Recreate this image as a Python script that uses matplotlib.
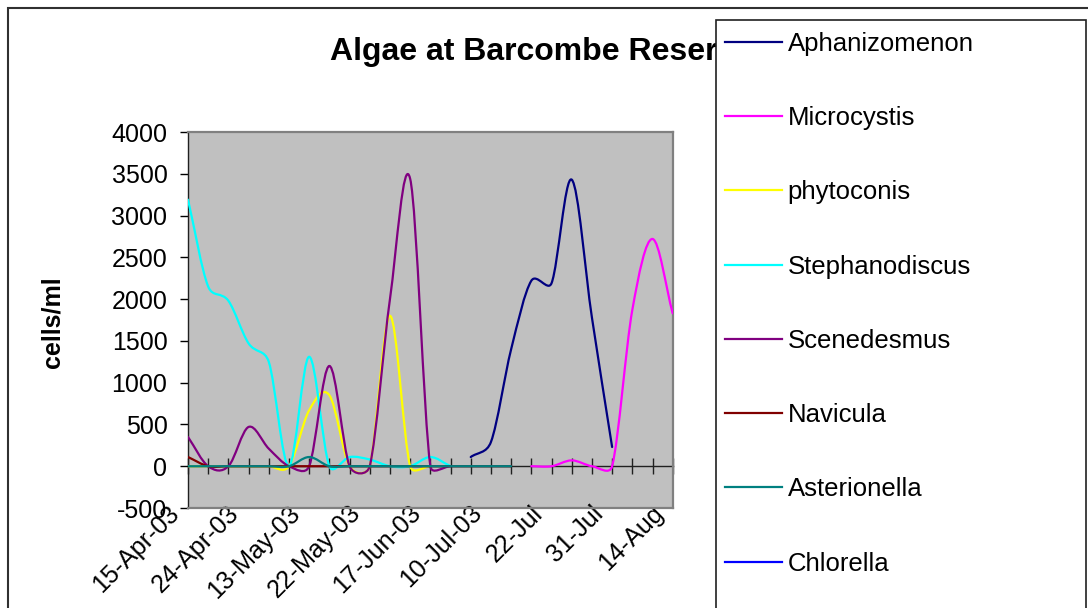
import math
import matplotlib
matplotlib.use("Agg")
import matplotlib.pyplot as plt
import matplotlib.transforms as mtransforms
from matplotlib.path import Path
from matplotlib.patches import PathPatch, Rectangle
from matplotlib.lines import Line2D

plt.rcParams['font.family'] = ['Liberation Sans', 'DejaVu Sans']
plt.rcParams['axes.unicode_minus'] = False

# ── data (one value per sampling date) ────────────────────────────────────
N_DATES = 25
TICK_LABELS = ["15-Apr-03", "24-Apr-03", "13-May-03", "22-May-03", "17-Jun-03",
               "10-Jul-03", "22-Jul", "31-Jul", "14-Aug"]
LABEL_EVERY = 3

aphanizomenon = [None] * 14 + [110, 290, 1400, 2220, 2190, 3430, 1780, 230, None, None, None]
microcystis = [None] * 17 + [0, 0, 70, 0, 0, 1870, 2720, 1830]
phytoconis = [0, 0, 0, 0, 0, 0, 670, 850, 0, 0, 1800, 0, 0] + [None] * 12
stephanodiscus = [3190, 2150, 1980, 1470, 1250, 0, 1310, 0, 110, 80, 0, 0, 110, 0] + [None] * 11
scenedesmus = [350, 0, 0, 470, 210, 0, 0, 1200, 0, 0, 2000, 3440, 0, 0] + [None] * 11
navicula = [110] + [0] * 16 + [None] * 8
asterionella = [0, 0, 0, 0, 0, 0, 110] + [0] * 10 + [None] * 8
chlorella = [None] * 25

SERIES = ["Aphanizomenon", "Microcystis", "phytoconis", "Stephanodiscus",
          "Scenedesmus", "Navicula", "Asterionella", "Chlorella"]
VALUES = [aphanizomenon, microcystis, phytoconis, stephanodiscus,
          scenedesmus, navicula, asterionella, chlorella]
COLORS = ["#000080", "#FF00FF", "#FFFF00", "#00FFFF",
          "#800080", "#800000", "#008080", "#0000FF"]

YMIN, YMAX = -500, 4000

W, H = 1088, 608
AX_BOX = [188 / W, 1 - 508 / H, (672.7 - 188) / W, (508 - 132) / H]


def smoothed_path(values, sx, sy):
    """Excel-style smoothed line (Bezier segments, control points limited
    by segment length in screen space). sx, sy: pixels per data unit."""
    pts = [(i * sx, v * sy) for i, v in enumerate(values) if v is not None]
    if len(pts) < 2:
        return None
    n = len(pts)
    dist = lambda a, b: math.hypot(a[0] - b[0], a[1] - b[1])
    verts = [pts[0]]
    codes = [Path.MOVETO]
    for k in range(n - 1):
        p1, p2 = pts[k], pts[k + 1]
        f0 = f3 = 1 / 6
        if k == 0:
            p0, f0 = p1, 1 / 3
        else:
            p0 = pts[k - 1]
        if k + 2 >= n:
            p3, f3 = p2, 1 / 3
        else:
            p3 = pts[k + 2]
        d12 = dist(p1, p2)
        d02 = dist(p0, p2)
        d13 = dist(p1, p3)
        if d02 * f0 > d12 / 2 and d02 > 0:
            f0 = d12 / d02 / 2
        if d13 * f3 > d12 / 2 and d13 > 0:
            f3 = d12 / d13 / 2
        c1 = (p1[0] + (p2[0] - p0[0]) * f0, p1[1] + (p2[1] - p0[1]) * f0)
        c2 = (p2[0] - (p3[0] - p1[0]) * f3, p2[1] - (p3[1] - p1[1]) * f3)
        verts += [c1, c2, p2]
        codes += [Path.CURVE4] * 3
    verts = [(x / sx, y / sy) for x, y in verts]
    return Path(verts, codes)


fig = plt.figure(figsize=(10.88, 6.08), dpi=100)
ax = fig.add_axes(AX_BOX)
ax.set_facecolor("#C0C0C0")
ax.set_xlim(0, N_DATES - 1)
ax.set_ylim(YMIN, YMAX)

px_x = AX_BOX[2] * W / (N_DATES - 1)
px_y = AX_BOX[3] * H / (YMAX - YMIN)

handles = []
for k, (name, vals, col) in enumerate(zip(SERIES, VALUES, COLORS)):
    path = smoothed_path(vals, px_x, px_y)
    if path is not None:
        ax.add_patch(PathPatch(path, fill=False, edgecolor=col, lw=1.6,
                               joinstyle="round", capstyle="round", zorder=3 + k * 0.1))
    handles.append(Line2D([], [], color=col, lw=1.6))

# y axis
ax.set_yticks(range(YMIN, YMAX + 1, 500))
ax.tick_params(axis="y", direction="out", length=5.8, width=1, labelsize=18, pad=9)
ax.set_ylabel("cells/ml", fontsize=18, fontweight="bold")
ax.yaxis.set_label_coords(-0.255, 0.495)

# category labels at the bottom of the plot area
label_pos = list(range(0, N_DATES, LABEL_EVERY))
ax.set_xticks(label_pos)
ax.set_xticklabels(TICK_LABELS, rotation=45, ha="right", va="center",
                   rotation_mode="anchor", fontsize=18)
ax.tick_params(axis="x", length=0, pad=1)
shift = mtransforms.ScaledTranslation(-13 / 100, 0, fig.dpi_scale_trans)
for lab in ax.get_xticklabels():
    lab.set_transform(lab.get_transform() + shift)

# category axis crossing at zero
zero_frac = (0 - YMIN) / (YMAX - YMIN)
sec = ax.secondary_xaxis(zero_frac)
sec.set_xticks(range(N_DATES))
sec.tick_params(direction="inout", length=11.5, width=1, colors="#202020",
                labelbottom=False, labeltop=False)
for sp in sec.spines.values():
    sp.set_color("#202020")
    sp.set_linewidth(1)

for side in ["top", "right", "bottom"]:
    ax.spines[side].set_color("#808080")
    ax.spines[side].set_linewidth(1.6)
ax.spines["left"].set_color("#202020")
ax.spines["left"].set_linewidth(1)

# chart border, title and legend box
fig.add_artist(Rectangle((8 / W, -0.1), 1.2, 1.1 - 8 / H, transform=fig.transFigure,
                         fill=False, edgecolor="#303030", lw=1.5, zorder=1))
fig.text(330 / W, 1 - 60 / H, "Algae at Barcombe Reservoir", fontsize=23,
         fontweight="bold", ha="left", va="baseline", zorder=3)
fig.add_artist(Rectangle((716 / W, -0.1), (1085.5 - 716) / W, 1.1 - 20 / H,
                         transform=fig.transFigure, facecolor="white",
                         edgecolor="#202020", lw=1.2, zorder=4))
fig.legend(handles, SERIES, loc="upper left", bbox_to_anchor=(725 / W, 1 - 32 / H),
           frameon=False, fontsize=18.5, borderpad=0, borderaxespad=0,
           handlelength=2.2, handletextpad=0.24, labelspacing=1.955).set_zorder(5)

plt.savefig("out.png", dpi=100)
plt.close("all")
